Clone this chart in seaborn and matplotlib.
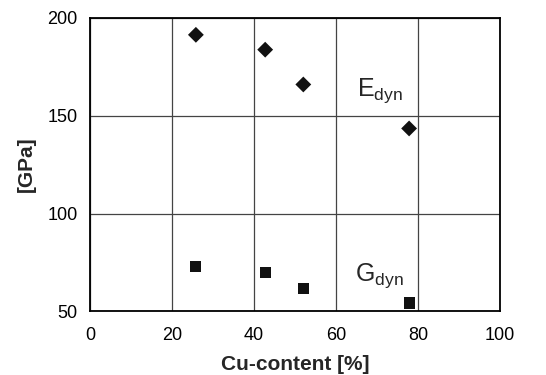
import pandas as pd
import seaborn as sns
import matplotlib.pyplot as plt

# DATA
cu_content = [25.8, 42.7, 52.0, 77.8]
e_dyn = [191.4, 183.8, 166.0, 143.5]
g_dyn = [73.0, 69.9, 61.7, 54.2]

df = pd.DataFrame({
    "cu": cu_content * 2,
    "gpa": e_dyn + g_dyn,
    "modulus": ["E"] * len(e_dyn) + ["G"] * len(g_dyn),
})

sns.set_style("white")
plt.rcParams["font.family"] = ["Liberation Sans", "DejaVu Sans"]

fig = plt.figure(figsize=(5.46, 3.75), dpi=100)
ax = fig.add_axes([0.165, 0.170, 0.751, 0.782])

sns.scatterplot(data=df, x="cu", y="gpa", style="modulus",
                markers={"E": "D", "G": "s"},
                s=65, color="#111111", edgecolor="none",
                legend=False, ax=ax)

ax.set_xlim(0, 100)
ax.set_ylim(50, 200)
ax.set_xticks([0, 20, 40, 60, 80, 100])
ax.set_yticks([50, 100, 150, 200])
ax.grid(True, color="#444444", linewidth=0.9)
ax.set_axisbelow(True)

for side in ["left", "bottom", "top", "right"]:
    ax.spines[side].set_color("black")
    ax.spines[side].set_linewidth(1.3)

ax.tick_params(axis="both", direction="out", length=3, width=1,
               labelsize=13, colors="black")
ax.tick_params(axis="x", pad=8.5)
ax.tick_params(axis="y", pad=6)
ax.set_xlabel("Cu-content [%]", fontsize=15, fontweight="bold", labelpad=8)
ax.set_ylabel("[GPa]", fontsize=15, fontweight="bold", labelpad=8)

ax.text(65, 160, r"E$_{\mathregular{dyn}}$", fontsize=18)
ax.text(64.5, 65.5, r"G$_{\mathregular{dyn}}$", fontsize=18)

fig.savefig("out.png", dpi=100)
